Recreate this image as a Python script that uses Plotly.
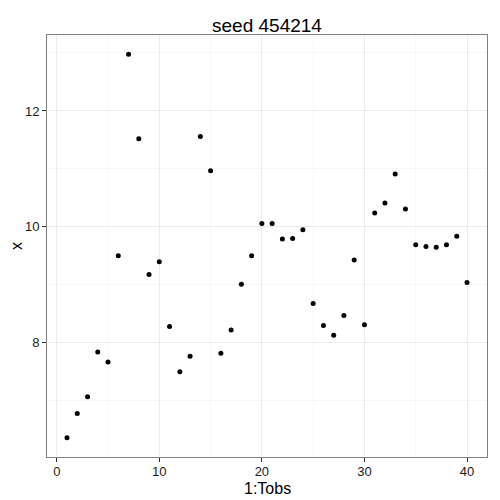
import plotly.graph_objects as go

obs = list(range(1, 41))
x_values = [6.36, 6.78, 7.07, 7.84, 7.67, 9.50, 12.98, 11.52, 9.18, 9.40,
            8.28, 7.50, 7.77, 11.56, 10.97, 7.82, 8.22, 9.01, 9.50, 10.06,
            10.06, 9.79, 9.80, 9.95, 8.68, 8.30, 8.13, 8.47, 9.43, 8.31,
            10.24, 10.41, 10.91, 10.31, 9.69, 9.66, 9.65, 9.69, 9.84, 9.04]
x_ticks = [0, 10, 20, 30, 40]
y_ticks = [8, 10, 12]
title_text = "seed 454214"
xlab = "1:Tobs"
ylab = "x"

FONT = "Liberation Sans, Arial, sans-serif"

fig = go.Figure(go.Scatter(
    x=obs, y=x_values, mode="markers",
    marker=dict(color="black", size=5, symbol="circle"),
    showlegend=False,
))

axis_common = dict(
    showgrid=True, gridcolor="#ebebeb", gridwidth=1,
    zeroline=False, showline=True, mirror=True, linecolor="#7f7f7f", linewidth=1,
    ticks="outside", ticklen=4, tickcolor="#333333", tickwidth=1,
    tickfont=dict(family=FONT, size=13, color="#1a1a1a"),
    minor=dict(showgrid=True, gridcolor="#f7f7f7", gridwidth=1, ticks=""),
)

fig.update_layout(
    width=500, height=500,
    margin=dict(l=39, r=21, t=27, b=51, autoexpand=False),
    paper_bgcolor="white", plot_bgcolor="white",
    title=dict(text=title_text, x=0.5, xref="paper", xanchor="center",
               y=1 - 17 / 500, yref="container", yanchor="middle",
               font=dict(family=FONT, size=19, color="black")),
    xaxis=dict(range=[-0.95, 41.95], tickvals=x_ticks, ticktext=[str(v) for v in x_ticks],
               ticklabelstandoff=-2, **axis_common),
    yaxis=dict(range=[6.03, 13.31], tickvals=y_ticks, ticktext=[str(v) for v in y_ticks],
               title=dict(text=ylab, standoff=10, font=dict(family=FONT, size=16, color="black")),
               **axis_common),
    annotations=[dict(text=xlab, x=0.5, xref="paper", y=0, yref="paper",
                      xanchor="center", yanchor="middle", yshift=-31, showarrow=False,
                      font=dict(family=FONT, size=16, color="black"))],
)
fig.update_xaxes(minor=dict(tickvals=[5, 15, 25, 35]))
fig.update_yaxes(minor=dict(tickvals=[7, 9, 11, 13]))

fig.write_html("out.html")
